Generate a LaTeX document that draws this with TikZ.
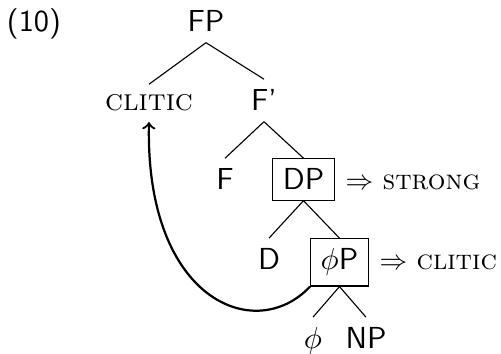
\documentclass[11pt,tikz,border=0pt]{standalone}
\usepackage{amsmath}

\tikzset{
  cat/.style={font=\sffamily,anchor=base},
  boxcat/.style={cat,draw},
  feat/.style={font=\rmfamily\fontsize{10}{12}\selectfont,anchor=base west}
}

\begin{document}
\begin{tikzpicture}[x=3.6pt,y=3.6pt]
\useasboundingbox(0,0)rectangle(50.1,35.4);
\node[cat](ex)at(3.4,32.2){(10)};
% the tree
\node[cat](FP)at(20.6,32.2){FP};
\node[cat,font=\rmfamily\scshape](clitic)at(14.9,24.3){clitic};
\node[cat](Fbar)at(26.4,24.3){F'};
\node[cat](F)at(22.5,16.4){F};
\node[boxcat](DP)at(30.35,16.4){DP};
\node[cat](D)at(26.9,8.4){D};
\node[boxcat](phiP)at(33.95,8.4){$\phi$P};
\node[cat](phi)at(31.3,0.5){$\phi$};
\node[cat](NP)at(36.6,0.5){NP};
\draw(FP.south)--(clitic.north)(FP.south)--(Fbar.north)
(Fbar.south)--(F.north)(Fbar.south)--(DP.north)
(DP.south)--(D.north)(DP.south)--(phiP.north)
(phiP.south)--(phi.north)(phiP.south)--(NP.north);
% features
\node[feat](strong)at(DP.base east){$\Rightarrow$ \textsc{strong}};
\node[feat](weak)at(phiP.base east){$\Rightarrow$ \textsc{clitic}};
% movement
\draw[->,thick](phiP.south west)..controls(25.5,0.9)and(14.5,5.4)..(clitic.south);
\end{tikzpicture}
\end{document}
